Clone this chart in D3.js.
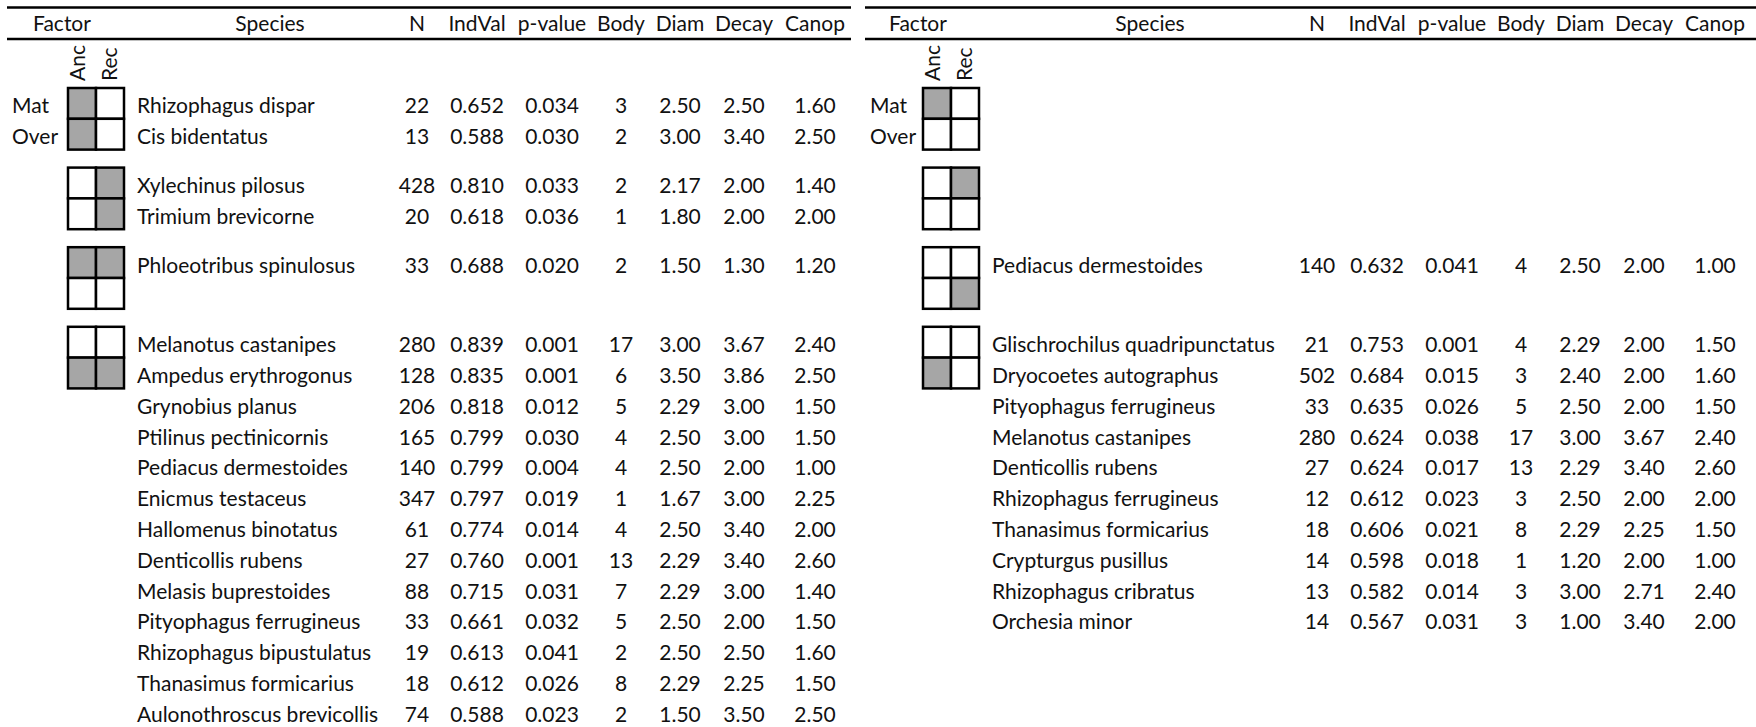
<!DOCTYPE html>
<html><head><meta charset="utf-8">
<script src="https://cdn.jsdelivr.net/npm/d3@7"></script>
<style>
html,body{margin:0;padding:0;background:#fff;}
svg{display:block;}
text{font-family:Lato,"Open Sans",sans-serif;fill:#111;}
</style></head>
<body><svg id="chart" width="1756" height="727"></svg>
<script>
// ---------- DATA ----------
const headers = ["Factor","Species","N","IndVal","p-value","Body","Diam","Decay","Canop"];
const numCols = ["N","IndVal","p-value","Body","Diam","Decay","Canop"];
const factorRows = ["Mat","Over"];
const factorCols = ["Anc","Rec"];

// cell patterns per group: [Mat-Anc, Mat-Rec, Over-Anc, Over-Rec]
const leftPatterns  = [[1,0,1,0],[0,1,0,1],[1,1,0,0],[0,0,1,1]];
const rightPatterns = [[1,0,0,0],[0,1,0,0],[0,0,0,1],[0,0,1,0]];

const leftGroup   = [0,0,1,1,2,3,3,3,3,3,3,3,3,3,3,3,3,3];
const leftSpecies = ["Rhizophagus dispar","Cis bidentatus","Xylechinus pilosus","Trimium brevicorne",
  "Phloeotribus spinulosus","Melanotus castanipes","Ampedus erythrogonus","Grynobius planus",
  "Ptilinus pectinicornis","Pediacus dermestoides","Enicmus testaceus","Hallomenus binotatus",
  "Denticollis rubens","Melasis buprestoides","Pityophagus ferrugineus","Rhizophagus bipustulatus",
  "Thanasimus formicarius","Aulonothroscus brevicollis"];
const leftN      = [22,13,428,20,33,280,128,206,165,140,347,61,27,88,33,19,18,74];
const leftIndVal = [0.652,0.588,0.810,0.618,0.688,0.839,0.835,0.818,0.799,0.799,0.797,0.774,0.760,0.715,0.661,0.613,0.612,0.588];
const leftP      = [0.034,0.030,0.033,0.036,0.020,0.001,0.001,0.012,0.030,0.004,0.019,0.014,0.001,0.031,0.032,0.041,0.026,0.023];
const leftBody   = [3,2,2,1,2,17,6,5,4,4,1,4,13,7,5,2,8,2];
const leftDiam   = [2.50,3.00,2.17,1.80,1.50,3.00,3.50,2.29,2.50,2.50,1.67,2.50,2.29,2.29,2.50,2.50,2.29,1.50];
const leftDecay  = [2.50,3.40,2.00,2.00,1.30,3.67,3.86,3.00,3.00,2.00,3.00,3.40,3.40,3.00,2.00,2.50,2.25,3.50];
const leftCanop  = [1.60,2.50,1.40,2.00,1.20,2.40,2.50,1.50,1.50,1.00,2.25,2.00,2.60,1.40,1.50,1.60,1.50,2.50];

const rightGroup   = [2,3,3,3,3,3,3,3,3,3,3];
const rightSpecies = ["Pediacus dermestoides","Glischrochilus quadripunctatus","Dryocoetes autographus",
  "Pityophagus ferrugineus","Melanotus castanipes","Denticollis rubens","Rhizophagus ferrugineus",
  "Thanasimus formicarius","Crypturgus pusillus","Rhizophagus cribratus","Orchesia minor"];
const rightN      = [140,21,502,33,280,27,12,18,14,13,14];
const rightIndVal = [0.632,0.753,0.684,0.635,0.624,0.624,0.612,0.606,0.598,0.582,0.567];
const rightP      = [0.041,0.001,0.015,0.026,0.038,0.017,0.023,0.021,0.018,0.014,0.031];
const rightBody   = [4,4,3,5,17,13,3,8,1,3,3];
const rightDiam   = [2.50,2.29,2.40,2.50,3.00,2.29,2.50,2.29,1.20,3.00,1.00];
const rightDecay  = [2.00,2.00,2.00,2.00,3.67,3.40,2.00,2.25,2.00,2.71,3.40];
const rightCanop  = [1.00,1.50,1.60,1.50,2.40,2.60,2.00,1.50,1.00,2.40,2.00];

// ---------- LAYOUT ----------
const svg = d3.select("#chart");
const FS = 21;
const cellW = 28, cellH = 30.8, groupGap = 18;
const groupStep = (2*cellH + groupGap)/cellH;     // in slot units
const ySlot = d3.scaleLinear().domain([0,1]).range([88, 88+cellH]);

const fmt = {
  "N": d3.format("d"), "IndVal": d3.format(".3f"), "p-value": d3.format(".3f"),
  "Body": d3.format("d"), "Diam": d3.format(".2f"), "Decay": d3.format(".2f"), "Canop": d3.format(".2f")
};

const panels = [
  { numShift: 0, lineX: [7, 851], factorX: 62, boxX: 68, labelX: 12, speciesX: 137, speciesHeadX: 270,
    patterns: leftPatterns, group: leftGroup, species: leftSpecies,
    cols: {"N":leftN,"IndVal":leftIndVal,"p-value":leftP,"Body":leftBody,"Diam":leftDiam,"Decay":leftDecay,"Canop":leftCanop} },
  { numShift: 900, lineX: [865, 1756], factorX: 918, boxX: 923, labelX: 870, speciesX: 992, speciesHeadX: 1150,
    patterns: rightPatterns, group: rightGroup, species: rightSpecies,
    cols: {"N":rightN,"IndVal":rightIndVal,"p-value":rightP,"Body":rightBody,"Diam":rightDiam,"Decay":rightDecay,"Canop":rightCanop} }
];

const colCenters = [417,477,552,621,680,744,815];

panels.forEach(p => {
  const g = svg.append("g");
  const xCol = d3.scaleOrdinal().domain(numCols).range(colCenters.map(c => c + p.numShift));

  // header lines
  [7.5, 39].forEach(yy => g.append("line")
    .attr("x1", p.lineX[0]).attr("x2", p.lineX[1]).attr("y1", yy).attr("y2", yy)
    .attr("stroke", "#000").attr("stroke-width", 2.5));

  // header texts
  const headX = {"Factor": p.factorX, "Species": p.speciesHeadX};
  numCols.forEach(c => headX[c] = xCol(c));
  g.selectAll("text.head").data(headers).join("text").attr("class","head")
    .attr("x", d => headX[d]).attr("y", 31).attr("text-anchor","middle")
    .attr("font-size", FS).text(d => d);

  // Anc / Rec rotated labels
  const xCell = d3.scaleBand().domain(factorCols).range([p.boxX, p.boxX + 2*cellW]);
  factorCols.forEach((c, i) => {
    const cx = xCell(c) + cellW/2 + (i === 0 ? 3 : 7);
    g.append("text").attr("transform", `translate(${cx},81) rotate(-90)`)
      .attr("text-anchor","start").attr("font-size", FS).text(c);
  });

  // Mat / Over labels
  factorRows.forEach((r, i) => {
    g.append("text").attr("x", p.labelX).attr("y", ySlot(i + 0.5) + 10)
      .attr("font-size", FS).text(r);
  });

  // boxes
  p.patterns.forEach((pat, gi) => {
    const top = ySlot(gi*groupStep);
    const yCell = d3.scaleBand().domain(factorRows).range([top, top + 2*cellH]);
    const cells = [];
    factorRows.forEach((r, ri) => factorCols.forEach((c, ci) => cells.push({r, c, v: pat[ri*2+ci]})));
    g.selectAll(null).data(cells).join("rect")
      .attr("x", d => xCell(d.c)).attr("y", d => yCell(d.r))
      .attr("width", cellW).attr("height", cellH)
      .attr("fill", d => d.v ? "#a6a6a6" : "#fff")
      .attr("stroke", "#000").attr("stroke-width", 2.5);
  });

  // rows
  const counters = {};
  const rows = p.species.map((s, i) => {
    const gi = p.group[i];
    counters[gi] = (counters[gi] || 0);
    const r = counters[gi]++;
    return { i, s, slot: gi*groupStep + r };
  });
  g.selectAll("text.sp").data(rows).join("text").attr("class","sp")
    .attr("x", p.speciesX).attr("y", d => ySlot(d.slot + 0.5) + 10)
    .attr("font-size", FS).text(d => d.s);
  numCols.forEach(c => {
    g.selectAll(null).data(rows).join("text")
      .attr("x", xCol(c)).attr("y", d => ySlot(d.slot + 0.5) + 10)
      .attr("text-anchor","middle").attr("font-size", FS)
      .text(d => fmt[c](p.cols[c][d.i]));
  });
});
</script></body></html>
